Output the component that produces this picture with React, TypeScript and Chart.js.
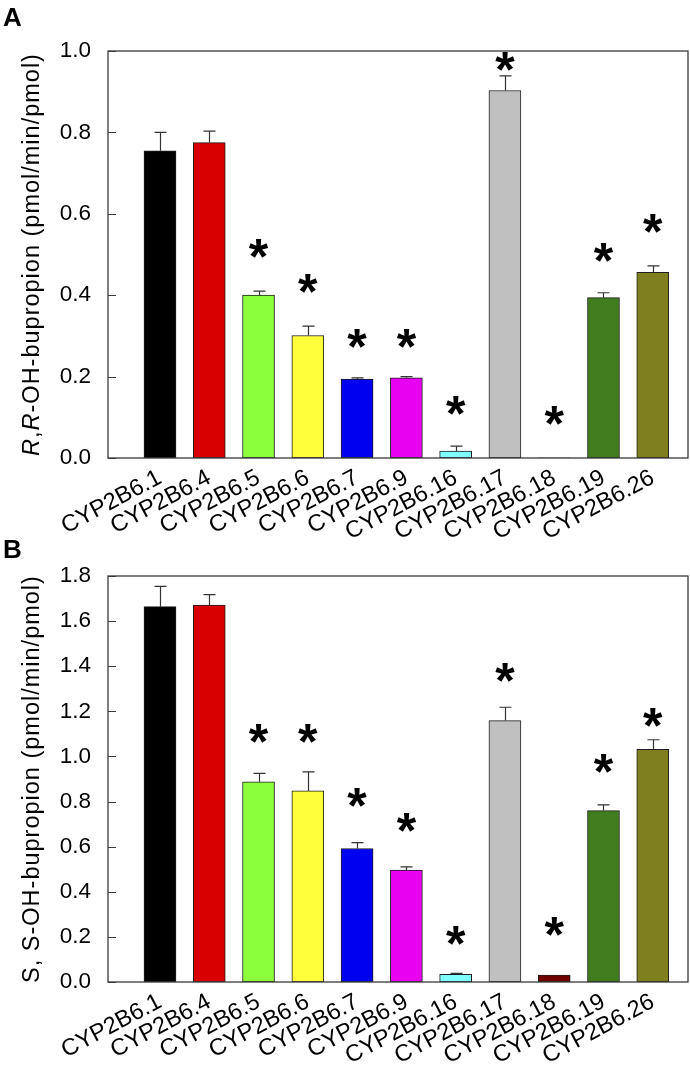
import React, { useEffect, useRef } from 'react';
import { Chart, registerables } from 'chart.js';

Chart.register(...registerables);

// ---- data ----
const categories = [
  'CYP2B6.1', 'CYP2B6.4', 'CYP2B6.5', 'CYP2B6.6', 'CYP2B6.7', 'CYP2B6.9',
  'CYP2B6.16', 'CYP2B6.17', 'CYP2B6.18', 'CYP2B6.19', 'CYP2B6.26',
];
const barColors = [
  '#000000', '#d80000', '#8cff3c', '#ffff3c', '#0000f0', '#e800f0',
  '#80ffff', '#c0c0c0', '#700000', '#3f7d1f', '#7f7f20',
];
// Panel A: R,R-OH-bupropion
const rrValues = [0.755, 0.775, 0.4, 0.301, 0.194, 0.197, 0.017, 0.903, 0, 0.394, 0.456];
const rrErrors = [0.045, 0.028, 0.01, 0.023, 0.003, 0.003, 0.012, 0.036, 0, 0.012, 0.016];
const rrStars = [null, null, 0.515, 0.428, 0.293, 0.293, 0.129, 0.973, 0.105, 0.506, 0.576];
const rrTicks = [0, 0.2, 0.4, 0.6, 0.8, 1.0];
// Panel B: S,S-OH-bupropion
const ssValues = [1.664, 1.671, 0.888, 0.847, 0.592, 0.496, 0.034, 1.159, 0.031, 0.76, 1.032];
const ssErrors = [0.09, 0.046, 0.037, 0.085, 0.026, 0.014, 0.004, 0.059, 0, 0.025, 0.042];
const ssStars = [null, null, 1.1, 1.1, 0.82, 0.705, 0.208, 1.373, 0.245, 0.968, 1.174];
const ssTicks = [0, 0.2, 0.4, 0.6, 0.8, 1.0, 1.2, 1.4, 1.6, 1.8];

const FONT = '"Liberation Sans", Arial, sans-serif';

type TitlePart = { t: string; italic?: boolean };

interface PanelSpec {
  letter: string;
  values: number[];
  errors: number[];
  stars: (number | null)[];
  ticks: number[];
  title: TitlePart[];
  top: number;
  height: number;
  padTop: number;
  xHeight: number;
  letterY: number;
}

const panels: PanelSpec[] = [
  {
    letter: 'A',
    values: rrValues,
    errors: rrErrors,
    stars: rrStars,
    ticks: rrTicks,
    title: [
      { t: 'R', italic: true },
      { t: ',' },
      { t: 'R', italic: true },
      { t: '-OH-bupropion (pmol/min/pmol)' },
    ],
    top: 0,
    height: 548,
    padTop: 51,
    xHeight: 90,
    letterY: 26,
  },
  {
    letter: 'B',
    values: ssValues,
    errors: ssErrors,
    stars: ssStars,
    ticks: ssTicks,
    title: [{ t: 'S, S-OH-bupropion (pmol/min/pmol)' }],
    top: 530,
    height: 541,
    padTop: 46,
    xHeight: 89,
    letterY: 28,
  },
];

function makeDecor(p: PanelSpec) {
  return {
    id: 'decor' + p.letter,
    afterDatasetsDraw(chart: any) {
      const { ctx, chartArea: a } = chart;
      const x = chart.scales.x;
      const y = chart.scales.y;
      ctx.save();
      // frame
      ctx.strokeStyle = '#3a3a3a';
      ctx.lineWidth = 1.3;
      ctx.strokeRect(a.left, a.top, a.right - a.left, a.bottom - a.top);
      // inward y tick marks
      ctx.lineWidth = 1;
      ctx.beginPath();
      p.ticks.forEach((v) => {
        const py = Math.round(y.getPixelForValue(v)) + 0.5;
        ctx.moveTo(a.left, py);
        ctx.lineTo(a.left + 8, py);
      });
      ctx.stroke();
      // error bars (upper)
      ctx.strokeStyle = '#333';
      ctx.lineWidth = 1.2;
      p.values.forEach((v, i) => {
        const e = p.errors[i];
        if (!e) return;
        const px = Math.round(x.getPixelForValue(i)) + 0.5;
        const y0 = y.getPixelForValue(v);
        const y1 = y.getPixelForValue(v + e);
        ctx.beginPath();
        ctx.moveTo(px, y0);
        ctx.lineTo(px, y1);
        ctx.moveTo(px - 6, y1);
        ctx.lineTo(px + 6, y1);
        ctx.stroke();
      });
      // significance asterisks
      ctx.fillStyle = '#000';
      ctx.font = `bold 50px ${FONT}`;
      ctx.textAlign = 'center';
      ctx.textBaseline = 'alphabetic';
      const m = ctx.measureText('*');
      const mid = (m.actualBoundingBoxAscent - m.actualBoundingBoxDescent) / 2;
      p.stars.forEach((s, i) => {
        if (s == null) return;
        ctx.fillText('*', x.getPixelForValue(i), y.getPixelForValue(s) + mid);
      });
      ctx.restore();
    },
    afterDraw(chart: any) {
      const { ctx, chartArea: a } = chart;
      ctx.save();
      // panel letter
      ctx.fillStyle = '#000';
      ctx.font = `bold 26px ${FONT}`;
      ctx.textAlign = 'left';
      ctx.textBaseline = 'alphabetic';
      ctx.fillText(p.letter, 3, p.letterY);
      // y title with mixed italic
      const size = 23.5;
      (ctx as any).letterSpacing = '1px';
      const fontFor = (part: TitlePart) => `${part.italic ? 'italic ' : ''}${size}px ${FONT}`;
      let total = 0;
      const widths = p.title.map((part) => {
        ctx.font = fontFor(part);
        const w = ctx.measureText(part.t).width;
        total += w;
        return w;
      });
      const cy = (a.top + a.bottom) / 2;
      ctx.translate(39, cy);
      ctx.rotate(-Math.PI / 2);
      let cx = -total / 2;
      p.title.forEach((part, i) => {
        ctx.font = fontFor(part);
        ctx.fillText(part.t, cx, 0);
        cx += widths[i];
      });
      ctx.restore();
    },
  };
}

function Panel({ spec }: { spec: PanelSpec }) {
  const ref = useRef<HTMLCanvasElement>(null);
  useEffect(() => {
    const canvas = ref.current!;
    const yMax = spec.ticks[spec.ticks.length - 1];
    const chart = new Chart(canvas, {
      type: 'bar',
      data: {
        datasets: [
          {
            data: spec.values.map((v, i) => ({ x: i, y: v })),
            backgroundColor: barColors,
            borderColor: '#1e1e1e',
            borderWidth: (c: any) => (spec.values[c.dataIndex] > 0 ? 1 : 0),
            barThickness: 32,
            borderSkipped: false,
          } as any,
        ],
      },
      options: {
        responsive: false,
        animation: false,
        devicePixelRatio: 1,
        layout: { padding: { top: spec.padTop, right: 2, left: 0, bottom: 0 } },
        plugins: { legend: { display: false }, tooltip: { enabled: false } },
        scales: {
          x: {
            type: 'linear',
            offset: false,
            min: -1.055,
            max: 10.715,
            grid: { display: false, drawTicks: false, offset: false },
            border: { display: false },
            afterBuildTicks: (scale: any) => {
              scale.ticks = categories.map((_, i) => ({ value: i }));
            },
            afterFit: (scale: any) => {
              scale.height = spec.xHeight;
            },
            ticks: {
              autoSkip: false,
              minRotation: 28,
              maxRotation: 28,
              padding: 6,
              color: '#000',
              font: { family: FONT, size: 23.5 },
              callback: (v: any) => categories[v as number] ?? '',
            },
          },
          y: {
            type: 'linear',
            min: 0,
            max: yMax,
            grid: { display: false, drawTicks: false },
            border: { display: false },
            afterBuildTicks: (scale: any) => {
              scale.ticks = spec.ticks.map((v) => ({ value: v }));
            },
            afterFit: (scale: any) => {
              scale.width = 108;
            },
            ticks: {
              padding: 17,
              color: '#000',
              font: { family: FONT, size: 22.5 },
              callback: (v: any) => Number(v).toFixed(1),
            },
          },
        },
      },
      plugins: [makeDecor(spec)],
    } as any);
    return () => chart.destroy();
  }, [spec]);
  return (
    <canvas
      ref={ref}
      width={690}
      height={spec.height}
      style={{ display: 'block', position: 'absolute', left: 0, top: spec.top }}
    />
  );
}

export default function App() {
  return (
    <div style={{ position: 'absolute', left: 0, top: 0, width: 690, height: 1071, background: '#fff' }}>
      {panels.map((p) => (
        <Panel key={p.letter} spec={p} />
      ))}
    </div>
  );
}
